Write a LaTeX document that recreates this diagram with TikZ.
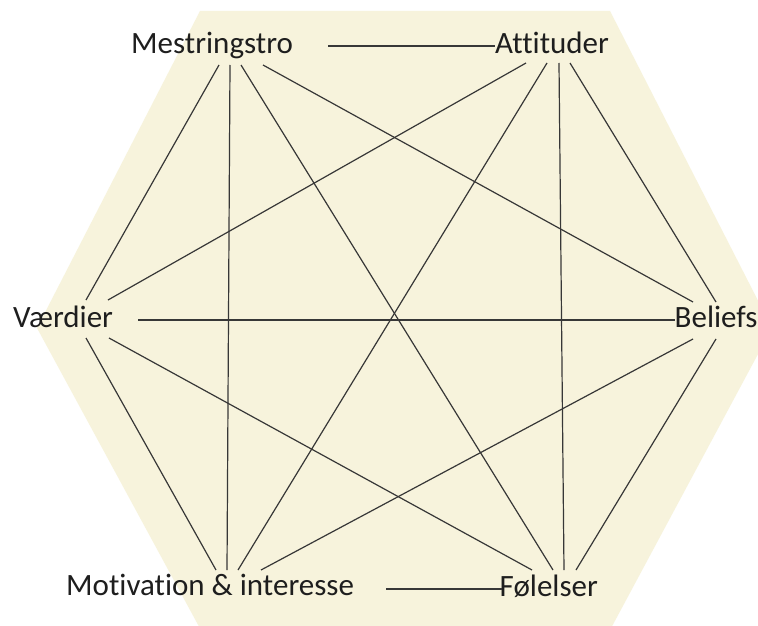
\documentclass[tikz,border=0pt]{standalone}
\usepackage{fontspec}
\setmainfont{Carlito}[Ligatures={NoCommon}]
\definecolor{hexfill}{RGB}{247,243,220}
\definecolor{linkcol}{RGB}{55,55,55}
\definecolor{txtcol}{RGB}{30,30,30}
\tikzset{
  lbl/.style={anchor=base west, inner sep=0pt, font=\fontsize{31}{36}\selectfont, text=txtcol},
  link/.style={draw=linkcol, line width=1.2pt}
}
\begin{document}
\begin{tikzpicture}[x=1pt,y=-1pt]
\useasboundingbox (0,0) rectangle (758,626);
\clip (0,0) rectangle (758,626);
\fill[white] (0,0) rectangle (758,626);
\fill[hexfill] (200,11) -- (610,11) -- (772,328) -- (602,645) -- (209,645) -- (37,328) -- cycle;

% labels
\node[lbl] (M) at (131,54) {Mestringstro};
\node[lbl] (A) at (495,54) {Attituder};
\node[lbl] (V) at (13,327) {Værdier};
\node[lbl] (B) at (674.5,327) {Beliefs};
\node[lbl] (I) at (66,595) {Motivation \& interesse};
\node[lbl] (F) at (499.5,596) {Følelser};

% connector end points
\coordinate (Mr) at (328,46);
\coordinate (Ml) at (495,46);
\coordinate (M1) at (219,65);
\coordinate (M2) at (230,65);
\coordinate (M3) at (241,65);
\coordinate (M4) at (263,65);
\coordinate (A1) at (526,63);
\coordinate (A2) at (547,63);
\coordinate (A3) at (559,63);
\coordinate (A4) at (570,63);
\coordinate (V1) at (86,300);
\coordinate (V2) at (108,300);
\coordinate (Vh) at (138,320);
\coordinate (V3) at (86,338);
\coordinate (V4) at (109,338);
\coordinate (B1) at (693,302);
\coordinate (B2) at (716,302);
\coordinate (Bh) at (675,320);
\coordinate (B3) at (693,339);
\coordinate (B4) at (716,339);
\coordinate (I1) at (216,570);
\coordinate (I2) at (227,570);
\coordinate (I3) at (238,570);
\coordinate (I4) at (261,570);
\coordinate (Ih) at (386,589);
\coordinate (F1) at (532,570);
\coordinate (F2) at (553,570);
\coordinate (F3) at (564,570);
\coordinate (F4) at (576,570);
\coordinate (Fh) at (502,589);

% connectors
\draw[link] (Mr) -- (Ml);
\draw[link] (M1) -- (V1);
\draw[link] (M2) -- (I2);
\draw[link] (M3) -- (F2);
\draw[link] (M4) -- (B1);
\draw[link] (A1) -- (V2);
\draw[link] (A2) -- (I3);
\draw[link] (A3) -- (F3);
\draw[link] (A4) -- (B2);
\draw[link] (Vh) -- (Bh);
\draw[link] (V3) -- (I1);
\draw[link] (V4) -- (F1);
\draw[link] (B3) -- (I4);
\draw[link] (B4) -- (F4);
\draw[link] (Ih) -- (Fh);
\end{tikzpicture}
\end{document}
